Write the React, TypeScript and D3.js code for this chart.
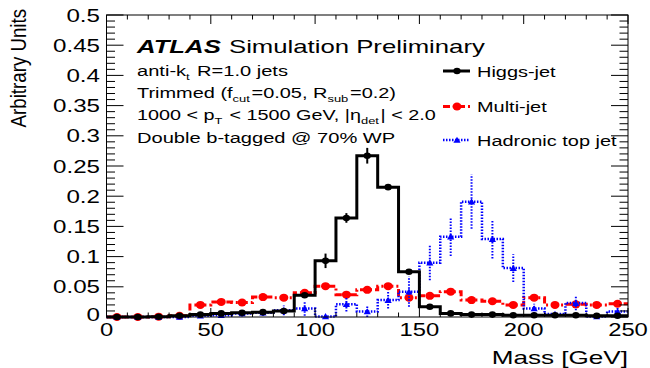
import React from 'react';
import * as d3 from 'd3';

// bin centres (GeV), 10 GeV bins from 0 to 250
const massBins = [5, 15, 25, 35, 45, 55, 65, 75, 85, 95, 105, 115, 125, 135, 145, 155, 165, 175, 185, 195, 205, 215, 225, 235, 245];

const higgs = [0, 0, 0.0005, 0.002, 0.004, 0.006, 0.007, 0.008, 0.01, 0.036, 0.093, 0.164, 0.267, 0.215, 0.075, 0.017, 0.006, 0.004, 0.004, 0.003, 0.003, 0.003, 0.003, 0.002, 0.002];
const higgsErr = [0, 0, 0.0005, 0.001, 0.001, 0.001, 0.001, 0.001, 0.0015, 0.003, 0.012, 0.008, 0.013, 0.004, 0.003, 0.002, 0.001, 0.001, 0.001, 0.001, 0.001, 0.001, 0.001, 0.001, 0.001];

const multijet = [0, 0, 0.0005, 0.002, 0.02, 0.025, 0.024, 0.033, 0.032, 0.04, 0.051, 0.037, 0.045, 0.051, 0.032, 0.035, 0.042, 0.028, 0.026, 0.02, 0.032, 0.02, 0.021, 0.02, 0.022];
const multijetErr = [0, 0, 0.0005, 0.001, 0.003, 0.003, 0.003, 0.003, 0.003, 0.004, 0.004, 0.004, 0.004, 0.004, 0.004, 0.004, 0.004, 0.003, 0.003, 0.003, 0.004, 0.003, 0.003, 0.003, 0.003];

const topJet = [0, 0, 0, 0, 0.002, 0.003, 0.006, 0.007, 0.011, 0.014, 0.001, 0.021, 0.009, 0.028, 0.042, 0.09, 0.133, 0.191, 0.129, 0.081, 0.014, 0.005, 0.023, 0.001, 0.009];
const topJetErr = [0, 0, 0, 0, 0.002, 0.003, 0.005, 0.005, 0.008, 0.012, 0.002, 0.012, 0.011, 0.014, 0.025, 0.029, 0.032, 0.045, 0.032, 0.023, 0.008, 0.005, 0.012, 0.002, 0.006];

const xTickLabels = [0, 50, 100, 150, 200, 250];
const yTickLabels = [0, 0.05, 0.1, 0.15, 0.2, 0.25, 0.3, 0.35, 0.4, 0.45, 0.5];

const W = 650;
const H = 368;
const frame = { left: 106.5, right: 628, top: 15, bottom: 317 };
const binW = 10;
const FONT = '"Liberation Sans", Arial, Helvetica, sans-serif';

const x = d3.scaleLinear().domain([0, 250]).range([frame.left, frame.right]);
const y = d3.scaleLinear().domain([0, 0.5]).range([frame.bottom, frame.top]);

type Series = { vals: number[]; errs: number[]; color: string; dash?: string; width: number; marker: 'dot' | 'circle' | 'tri'; errDash?: string };

const series: Series[] = [
  { vals: multijet, errs: multijetErr, color: '#ff0000', dash: '7 3 2 3', width: 3, marker: 'circle' },
  { vals: topJet, errs: topJetErr, color: '#0000ff', dash: '1.5 1.5', width: 2.5, marker: 'tri', errDash: '1.5 1.5' },
  { vals: higgs, errs: higgsErr, color: '#000000', width: 3, marker: 'dot' },
];

// text stretched horizontally like the original (resized) canvas
const SText: React.FC<{ x: number; y: number; fs: number; kx: number; anchor?: string; weight?: string; italic?: boolean; children: React.ReactNode }> = ({ x, y, fs, kx, anchor = 'start', weight, italic, children }) => (
  <text
    transform={`translate(${x},${y}) scale(${kx},1)`}
    fontSize={fs}
    fontFamily={FONT}
    textAnchor={anchor}
    fontWeight={weight}
    fontStyle={italic ? 'italic' : undefined}
    fill="#000"
  >
    {children}
  </text>
);

const Marker: React.FC<{ kind: string; cx: number; cy: number; color: string }> = ({ kind, cx, cy, color }) => {
  if (kind === 'dot') return <ellipse cx={cx} cy={cy} rx={3.6} ry={3.3} fill={color} />;
  if (kind === 'circle') return <ellipse cx={cx} cy={cy} rx={4.5} ry={4} fill={color} />;
  return <path d={`M${cx - 3.6},${cy + 2.8}L${cx + 3.6},${cy + 2.8}L${cx},${cy - 3.3}Z`} fill={color} />;
};

const stepLine = d3
  .line<[number, number]>()
  .x(d => x(d[0]))
  .y(d => y(d[1]))
  .curve(d3.curveStepAfter);

const stepPoints = (vals: number[]): [number, number][] => {
  const pts: [number, number][] = massBins.map((m, i) => [m - binW / 2, vals[i]]);
  pts.push([massBins[massBins.length - 1] + binW / 2, vals[vals.length - 1]]);
  return pts;
};

const sub = (t: string) => (
  <>
    <tspan fontSize="0.65em" dy={4}>{t}</tspan>
    <tspan dy={-4}>{'\u200a'}</tspan>
  </>
);

export default function App() {
  const xMinor = d3.range(0, 251, 10);
  const yMinor = d3.range(0, 0.5001, 0.01);

  return (
    <svg width={W} height={H} style={{ position: 'absolute', left: 0, top: 0, background: '#fff' }}>
      <rect x={0} y={0} width={W} height={H} fill="#fff" />

      {/* histograms */}
      {series.map((s, si) => (
        <g key={si}>
          <path d={stepLine(stepPoints(s.vals)) || ''} fill="none" stroke={s.color} strokeWidth={s.width} strokeDasharray={s.dash} />
          {massBins.map((m, i) => (
            <line key={i} x1={x(m)} x2={x(m)} y1={y(Math.max(0, s.vals[i] - s.errs[i]))} y2={y(s.vals[i] + s.errs[i])} stroke={s.color} strokeWidth={2} strokeDasharray={s.errDash} />
          ))}
          {massBins.map((m, i) => (
            <Marker key={'m' + i} kind={s.marker} cx={x(m)} cy={y(s.vals[i])} color={s.color} />
          ))}
        </g>
      ))}

      {/* frame */}
      <rect x={frame.left} y={frame.top} width={frame.right - frame.left} height={frame.bottom - frame.top} fill="none" stroke="#000" strokeWidth={1} />

      {/* x ticks bottom + top */}
      {xMinor.map(v => {
        const major = v % 50 === 0;
        const len = major ? 9 : 4.5;
        return (
          <g key={'xt' + v}>
            <line x1={x(v)} x2={x(v)} y1={frame.bottom} y2={frame.bottom - len} stroke="#000" />
            <line x1={x(v)} x2={x(v)} y1={frame.top} y2={frame.top + len} stroke="#000" />
          </g>
        );
      })}
      {/* y ticks left + right */}
      {yMinor.map((v, i) => {
        const major = i % 5 === 0;
        const len = major ? 17 : 8.5;
        return (
          <g key={'yt' + i}>
            <line x1={frame.left} x2={frame.left + len} y1={y(v)} y2={y(v)} stroke="#000" />
            <line x1={frame.right} x2={frame.right - len} y1={y(v)} y2={y(v)} stroke="#000" />
          </g>
        );
      })}

      {/* tick labels */}
      {xTickLabels.map(v => (
        <SText key={'xl' + v} x={x(v)} y={335.5} fs={17.5} kx={1.36} anchor="middle">{String(v)}</SText>
      ))}
      {yTickLabels.map(v => (
        <SText key={'yl' + v} x={100} y={y(v) + 6.5 - (v === 0 ? 3 : 0)} fs={17.5} kx={1.38} anchor="end">{String(v)}</SText>
      ))}

      {/* axis titles */}
      <text transform="translate(26,9) rotate(-90) scale(0.85,1)" fontSize={22} fontFamily={FONT} textAnchor="end">Arbitrary Units</text>
      <SText x={628} y={364} fs={18} kx={1.45} anchor="end">Mass [GeV]</SText>

      {/* ATLAS label and selection text */}
      <SText x={137} y={53} fs={18} kx={1.43} weight="bold" italic>ATLAS</SText>
      <SText x={229} y={53} fs={18} kx={1.43}>Simulation Preliminary</SText>
      <SText x={137} y={76} fs={15} kx={1.34}>anti-k{sub('t')} R=1.0 jets</SText>
      <SText x={137} y={97.5} fs={15} kx={1.33}>Trimmed (f{sub('cut')}=0.05, R{sub('sub')}=0.2)</SText>
      <SText x={137} y={120} fs={15} kx={1.32}>1000 &lt; p{sub('T')} &lt; 1500 GeV, |η{sub('det')}| &lt; 2.0</SText>
      <SText x={137} y={143} fs={15} kx={1.34}>Double b-tagged @ 70% WP</SText>

      {/* legend */}
      {[
        { label: 'Higgs-jet', s: series[2], ly: 71 },
        { label: 'Multi-jet', s: series[0], ly: 106.5 },
        { label: 'Hadronic top jet', s: series[1], ly: 140 },
      ].map(e => (
        <g key={e.label}>
          <line x1={443} x2={470} y1={e.ly} y2={e.ly} stroke={e.s.color} strokeWidth={e.s.width} strokeDasharray={e.s.dash} />
          <Marker kind={e.s.marker} cx={457} cy={e.ly} color={e.s.color} />
          <SText x={477} y={e.ly + 5.5} fs={15} kx={1.33}>{e.label}</SText>
        </g>
      ))}
    </svg>
  );
}
